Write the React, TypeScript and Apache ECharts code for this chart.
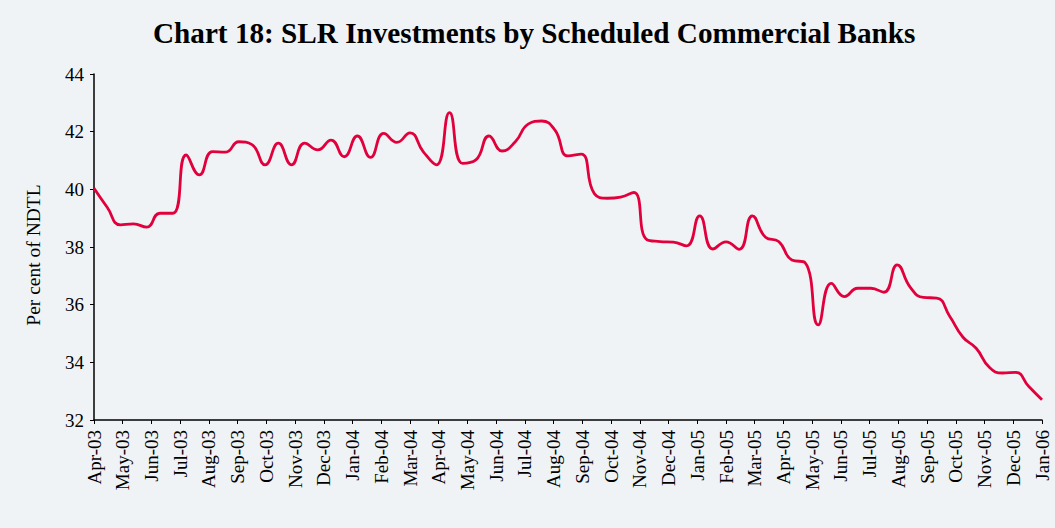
import React, { useEffect, useRef } from "react";
import * as echarts from "echarts";

const monthLabels = [
  "Apr-03", "May-03", "Jun-03", "Jul-03", "Aug-03", "Sep-03", "Oct-03", "Nov-03", "Dec-03",
  "Jan-04", "Feb-04", "Mar-04", "Apr-04", "May-04", "Jun-04", "Jul-04", "Aug-04", "Sep-04",
  "Oct-04", "Nov-04", "Dec-04", "Jan-05", "Feb-05", "Mar-05", "Apr-05", "May-05", "Jun-05",
  "Jul-05", "Aug-05", "Sep-05", "Oct-05", "Nov-05", "Dec-05", "Jan-06",
];

// Fortnightly SLR investments (per cent of NDTL), Apr-03 to Jan-06
const slrValues = [
  40.04, 39.38, 38.77, 38.8, 38.69, 39.17, 39.17, 41.19, 40.5, 41.31,
  41.29, 41.65, 41.55, 40.85, 41.6, 40.85, 41.6, 41.37, 41.71, 41.13,
  41.85, 41.11, 41.94, 41.63, 41.96, 41.31, 40.85, 42.66, 40.9, 41.02,
  41.85, 41.33, 41.65, 42.27, 42.37, 42.06, 41.16, 41.22, 39.85, 39.69,
  39.73, 39.89, 38.25, 38.19, 38.17, 38.04, 39.08, 37.93, 38.18, 37.92,
  39.08, 38.34, 38.19, 37.55, 37.46, 35.3, 36.74, 36.28, 36.57, 36.57,
  36.43, 37.38, 36.6, 36.25, 36.23, 35.59, 34.87, 34.49, 33.83, 33.63,
  33.65, 33.16, 32.7,
];

const yTicks = { min: 32, max: 44, interval: 2 };

export default function App() {
  const ref = useRef<HTMLDivElement>(null);
  useEffect(() => {
    document.body.style.margin = "0";
    if (!ref.current) return;
    const chart = echarts.init(ref.current, undefined, { renderer: "svg" });
    const span = monthLabels.length - 1;
    const steps = slrValues.length - 1;
    const data = slrValues.map((v, i) => [(i * span) / steps, v]);
    const serif = "Liberation Serif, Times New Roman, serif";
    chart.setOption({
      animation: false,
      backgroundColor: "#eff3f6",
      title: {
        text: "Chart 18: SLR Investments by Scheduled Commercial Banks",
        left: 148,
        top: 13,
        textStyle: { fontFamily: serif, fontWeight: "bold", fontSize: 29.2, color: "#000" },
      },
      graphic: [
        {
          type: "text",
          x: 33,
          y: 255,
          rotation: Math.PI / 2,
          style: {
            text: "Per cent of NDTL",
            fontFamily: serif,
            fontSize: 19.5,
            fill: "#000",
            align: "center",
            verticalAlign: "middle",
          },
        },
      ],
      grid: { left: 94, right: 13, top: 74, bottom: 108 },
      xAxis: {
        type: "value",
        min: 0,
        max: span,
        interval: 1,
        splitLine: { show: false },
        axisLine: { show: true, lineStyle: { color: "#000", width: 1.5 } },
        axisTick: { show: true, length: 4, lineStyle: { color: "#000" } },
        axisLabel: {
          rotate: 90,
          margin: 10,
          fontFamily: serif,
          fontSize: 19,
          color: "#000",
          formatter: (v: number) => monthLabels[Math.round(v)] ?? "",
        },
      },
      yAxis: {
        type: "value",
        min: yTicks.min,
        max: yTicks.max,
        interval: yTicks.interval,
        splitLine: { show: false },
        axisLine: { show: true, lineStyle: { color: "#000", width: 1.5 } },
        axisTick: { show: true, length: 4, lineStyle: { color: "#000" } },
        axisLabel: { margin: 10, fontFamily: serif, fontSize: 19, color: "#000" },
      },
      series: [
        {
          type: "line",
          data,
          smooth: 0.5,
          showSymbol: false,
          lineStyle: { color: "#e2003c", width: 2.8 },
        },
      ],
    });
    return () => chart.dispose();
  }, []);
  return <div ref={ref} style={{ width: 1055, height: 528 }} />;
}
